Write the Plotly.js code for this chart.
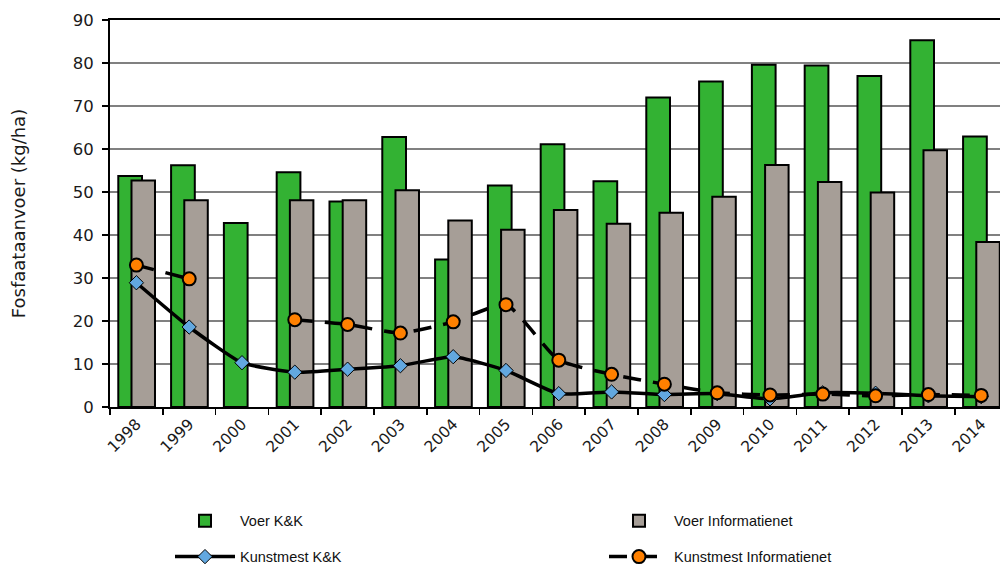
<!DOCTYPE html>
<html>
<head>
<meta charset="utf-8">
<script src="https://cdn.plot.ly/plotly-3.0.1.min.js"></script>
<style>html,body{margin:0;padding:0;background:#fff;}#chart{width:1000px;height:565px;}</style>
</head>
<body>
<div id="chart"></div>
<script>
const years = ['1998','1999','2000','2001','2002','2003','2004','2005','2006','2007','2008','2009','2010','2011','2012','2013','2014'];
const voerKK = [53.7,56.2,42.8,54.6,47.8,62.8,34.3,51.5,61.1,52.5,72.0,75.7,79.6,79.4,77.0,85.3,62.9];
const voerInfo = [52.7,48.1,null,48.1,48.1,50.4,43.4,41.2,45.8,42.6,45.2,48.9,56.3,52.3,49.9,59.7,38.4];
const kunstKK = [28.9,18.6,10.3,8.1,8.8,9.6,11.7,8.5,3.1,3.5,2.9,3.1,1.9,3.3,3.2,2.6,2.4];
const kunstInfo = [33.0,29.8,null,20.3,19.2,17.2,19.8,23.8,10.9,7.6,5.3,3.3,2.8,3.0,2.6,2.9,2.7];
const yTicks = [0,10,20,30,40,50,60,70,80,90];

const traces = [
  {type:'bar', name:'Voer K&K', x:years, y:voerKK, offset:-0.343, width:0.449,
   marker:{color:'#33b233', line:{color:'#000', width:2}}, legend:'legend', legendgroup:'a'},
  {type:'bar', name:'Voer Informatienet', x:years, y:voerInfo, offset:-0.093, width:0.445,
   marker:{color:'#a69e97', line:{color:'#000', width:2}}, legend:'legend2', legendgroup:'b'},
  {type:'scatter', mode:'lines+markers', name:'Kunstmest K&K', x:years, y:kunstKK,
   line:{color:'#000', width:3.5, shape:'spline', smoothing:0.5},
   marker:{symbol:'diamond', size:11, color:'#62a8e0', line:{color:'#000', width:1}}, legend:'legend', legendgroup:'c'},
  {type:'scatter', mode:'lines+markers', name:'Kunstmest Informatienet', x:years, y:kunstInfo, connectgaps:false,
   line:{color:'#000', width:3.5, dash:'18px,12px', shape:'spline', smoothing:0.5},
   marker:{symbol:'circle', size:13, color:'#ff8000', line:{color:'#000', width:2}}, legend:'legend2', legendgroup:'d'}
];

const legFont = {family:'Liberation Sans Narrow, Liberation Sans, Arial', size:14.5, color:'#111'};
const layout = {
  width:1000, height:565,
  margin:{l:110, r:0, t:20, b:158.3, autoexpand:false},
  paper_bgcolor:'#fff', plot_bgcolor:'#fff',
  barmode:'overlay',
  showlegend:true,
  font:{family:'DejaVu Sans, Verdana, sans-serif', size:16, color:'#1a1a1a'},
  xaxis:{type:'category', range:[-0.5,16.356], tickson:'boundaries', ticks:'outside', ticklen:6, tickwidth:1.5, tickcolor:'#000',
    tickangle:-45, showline:true, linecolor:'#000', linewidth:2, mirror:true, showgrid:false, fixedrange:true, automargin:false,
    tickfont:{family:'DejaVu Sans, Verdana, sans-serif', size:15.5, color:'#1a1a1a'}},
  yaxis:{range:[0,90], tickvals:yTicks, ticks:'outside', ticklen:6, tickwidth:1.5, tickcolor:'#000', ticklabelstandoff:5,
    showline:true, linecolor:'#000', linewidth:2, showgrid:true, gridcolor:'#808080', gridwidth:1.5, zeroline:false, automargin:false,
    tickfont:{family:'DejaVu Sans, Verdana, sans-serif', size:16.5, color:'#1a1a1a'},
    title:{text:'Fosfaataanvoer (kg/ha)', standoff:42, font:{family:'DejaVu Sans, Verdana, sans-serif', size:18, color:'#1a1a1a'}}},
  legend:{x:(170-110)/890, xanchor:'left', yref:'container', y:0.1065, yanchor:'top', orientation:'v', tracegroupgap:14, itemwidth:60,
    font:legFont, bgcolor:'rgba(0,0,0,0)', traceorder:'grouped'},
  legend2:{x:(604-110)/890, xanchor:'left', yref:'container', y:0.1065, yanchor:'top', orientation:'v', tracegroupgap:14, itemwidth:60,
    font:legFont, bgcolor:'rgba(0,0,0,0)', traceorder:'grouped'}
};
Plotly.newPlot('chart', traces, layout, {displayModeBar:false, staticPlot:true});
</script>
</body>
</html>
